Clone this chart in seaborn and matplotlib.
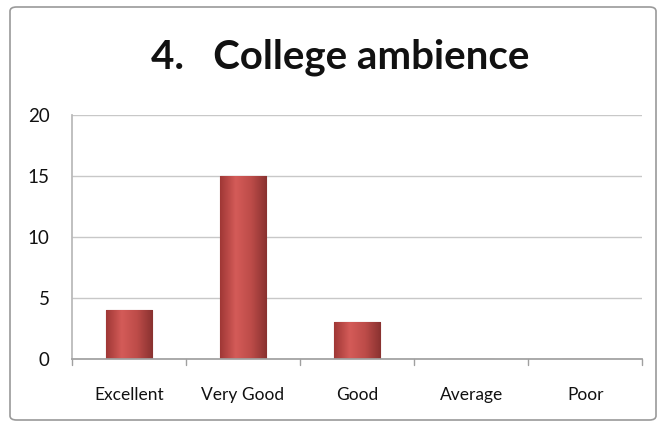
import matplotlib
matplotlib.use("Agg")
import matplotlib.pyplot as plt
import seaborn as sns
import numpy as np
import pandas as pd
from matplotlib.patches import FancyBboxPatch
from matplotlib.colors import LinearSegmentedColormap

categories = ["Excellent", "Very Good", "Good", "Average", "Poor"]
values = [4, 15, 3, 0, 0]
yticks = [0, 5, 10, 15, 20]
title = "4.   College ambience"

sns.set_theme(style="white")
plt.rcParams['font.family'] = ['Lato', 'DejaVu Sans']

df = pd.DataFrame({"category": categories, "value": values})

fig = plt.figure(figsize=(6.6, 4.23), dpi=100)
ax = fig.add_axes([0.109, 0.1513, 0.864, 0.577])

sns.barplot(data=df, x="category", y="value", color="#c0504d", width=0.41,
            edgecolor="#8e3533", linewidth=0.8, saturation=1, ax=ax)

# horizontal shading gradient on each bar
grad = np.linspace(0, 1, 64)
shade = np.vstack([grad, grad])
cmap = LinearSegmentedColormap.from_list("barshade", ["#a03836", "#d45b58", "#bd4c49", "#8a3230"])
for p in ax.patches:
    if p.get_height() <= 0:
        continue
    x0, y0 = p.get_x(), p.get_y()
    w, h = p.get_width(), p.get_height()
    im = ax.imshow(shade, extent=[x0, x0 + w, y0, y0 + h], aspect="auto",
                   cmap=cmap, zorder=p.get_zorder() + 0.1, interpolation="bicubic")
    im.set_clip_path(p)

ax.set_xlim(-0.5, len(categories) - 0.5)
ax.set_ylim(0, 20)
ax.set_yticks(yticks)
ax.set_yticklabels([str(t) for t in yticks], fontsize=13.5)
ax.set_xticks(range(len(categories)))
ax.set_xticklabels(categories, fontsize=12.5)
ax.set_xlabel("")
ax.set_ylabel("")
ax.yaxis.grid(True, color="#c8c8c8", linewidth=1)
ax.set_axisbelow(True)
for s in ["top", "right"]:
    ax.spines[s].set_visible(False)
ax.spines["left"].set_color("#b8b8b8")
ax.spines["bottom"].set_color("#a0a0a0")
ax.tick_params(axis="x", length=0, pad=20, colors="#111111")
ax.tick_params(axis="y", length=0, pad=16, colors="#111111")

# category boundary tick marks
for b in np.arange(-0.5, len(categories), 1.0):
    ax.plot([b, b], [0, -0.5], color="#a0a0a0", lw=1, clip_on=False)

fig.text(0.515, 0.865, title, ha="center", va="center", fontsize=29,
         fontweight="bold", color="#111111")

border = FancyBboxPatch((10 / 660, 3 / 423), 646 / 660, 413 / 423,
                        boxstyle="round,pad=0,rounding_size=0.01",
                        transform=fig.transFigure, fill=False,
                        edgecolor="#9a9a9a", linewidth=1.2)
fig.patches.append(border)

fig.savefig("out.png", dpi=100)
